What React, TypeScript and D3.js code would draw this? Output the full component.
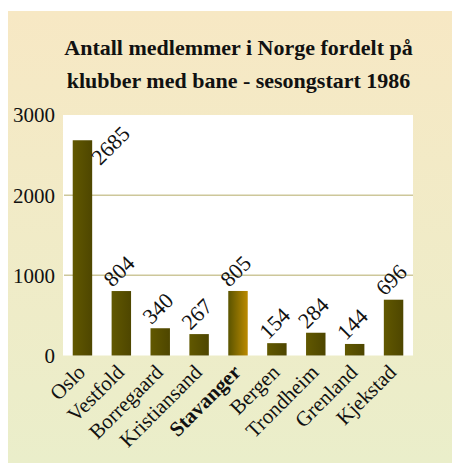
import React from 'react';
import * as d3 from 'd3';

const clubs = ['Oslo', 'Vestfold', 'Borregaard', 'Kristiansand', 'Stavanger', 'Bergen', 'Trondheim', 'Grenland', 'Kjekstad'];
const members = [2685, 804, 340, 267, 805, 154, 284, 144, 696];
const yTicks = [0, 1000, 2000, 3000];
const gridValues = [1000, 2000];
const highlight = 'Stavanger';
const titleLines = ['Antall medlemmer i Norge fordelt på', 'klubber med bane - sesongstart 1986'];

const W = 452;
const H = 456;
const font = '"Liberation Serif", "Times New Roman", serif';

const App = () => {
  const plot = { left: 55, right: 405, top: 107, bottom: 347.5 };

  const x = d3.scaleBand<string>()
    .domain(clubs)
    .range([plot.left, plot.right])
    .paddingInner(0.5)
    .paddingOuter(0.25);

  const y = d3.scaleLinear()
    .domain([0, 3000])
    .range([plot.bottom, plot.top]);

  const labelSize = 22;
  // rough height of a rotated value label, used to keep it inside the plot
  const labelExtent = (v: number) => (String(v).length * labelSize * 0.5 + labelSize * 0.66) * 0.707;

  return (
    <svg width={W} height={H} style={{ display: 'block' }} fontFamily={font}>
      <defs>
        <linearGradient id="panelBg" x1="0" y1="0" x2="0" y2="1">
          <stop offset="0" stopColor="#f7e8c4" />
          <stop offset="1" stopColor="#eaeeca" />
        </linearGradient>
        <linearGradient id="barFill" x1="0" y1="0" x2="1" y2="0">
          <stop offset="0" stopColor="#615800" />
          <stop offset="1" stopColor="#4e4600" />
        </linearGradient>
        <linearGradient id="barHi" x1="0" y1="0" x2="1" y2="0">
          <stop offset="0" stopColor="#5a5400" />
          <stop offset="1" stopColor="#bb8a00" />
        </linearGradient>
      </defs>

      <rect x={0} y={3} width={W} height={452} fill="url(#panelBg)" />

      {titleLines.map((t, i) => (
        <text key={t} x={230.5} y={47 + i * 33} textAnchor="middle" fontSize={22} fontWeight="bold" fill="#111">
          {t}
        </text>
      ))}

      <rect x={plot.left} y={plot.top} width={plot.right - plot.left} height={plot.bottom - plot.top} fill="#fff" />

      {gridValues.map(v => (
        <line key={v} x1={plot.left + 1} x2={plot.right} y1={y(v)} y2={y(v)} stroke="#cdc79a" strokeWidth={1.5} />
      ))}

      {yTicks.map(v => (
        <text key={v} x={47} y={y(v)} dy="0.35em" textAnchor="end" fontSize={21} fill="#111">
          {v}
        </text>
      ))}

      {clubs.map((c, i) => {
        const v = members[i];
        const bx = x(c) as number;
        const bw = x.bandwidth();
        const top = y(v);
        // labels that would run out of the top of the plot go beside the bar instead
        const fits = top - 3 - labelExtent(v) >= plot.top;
        const lx = fits ? bx + 1 : bx + bw + 8;
        const ly = fits ? top - 3 : top + 26;
        return (
          <g key={c}>
            <rect x={bx} y={top} width={bw} height={plot.bottom - top} fill={c === highlight ? 'url(#barHi)' : 'url(#barFill)'} />
            <text x={lx} y={ly} transform={`rotate(-45 ${lx} ${ly})`} fontSize={labelSize} fill="#111">
              {v}
            </text>
          </g>
        );
      })}

      {clubs.map(c => {
        const cx = (x(c) as number) + x.bandwidth() / 2 + 4;
        const cy = plot.bottom + 18;
        return (
          <text key={c} x={cx} y={cy} transform={`rotate(-45 ${cx} ${cy})`} textAnchor="end" fontSize={21}
            fontWeight={c === highlight ? 'bold' : 'normal'} fill="#111">
            {c}
          </text>
        );
      })}
    </svg>
  );
};

export default App;
